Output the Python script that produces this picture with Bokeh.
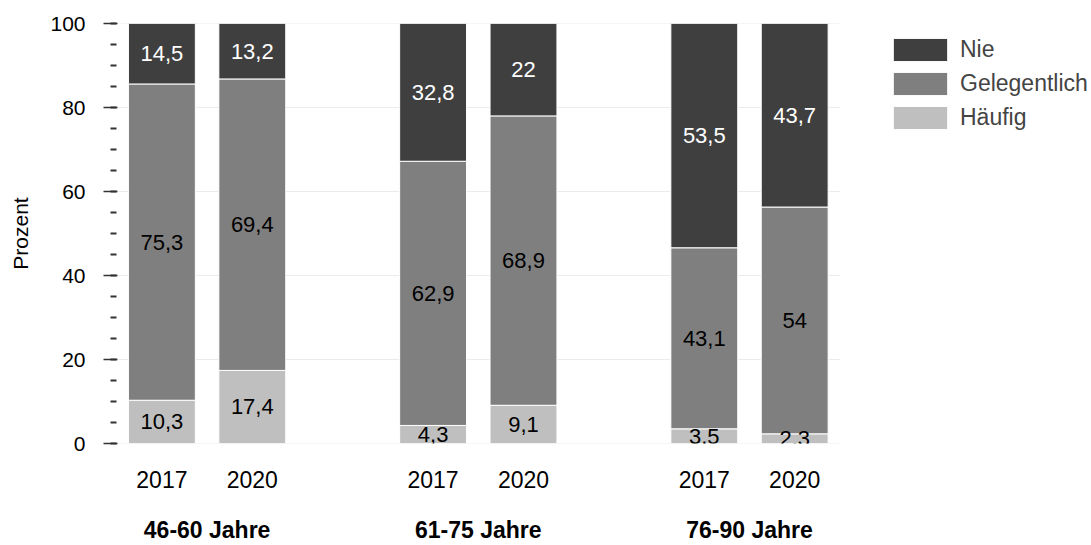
import numpy as np
from bokeh.plotting import figure
from bokeh.models import (ColumnDataSource, Legend, LegendItem, LinearAxis, FixedTicker,
                          SingleIntervalTicker, Range1d)
from bokeh.core.properties import value
from bokeh.embed import file_html
from bokeh.resources import INLINE

# ---- data ----
groups = ["46-60 Jahre", "61-75 Jahre", "76-90 Jahre"]
years = ["2017", "2020"]
series = ["Häufig", "Gelegentlich", "Nie"]
haeufig = [10.3, 17.4, 4.3, 9.1, 3.5, 2.3]
gelegentlich = [75.3, 69.4, 62.9, 68.9, 43.1, 54.0]
nie = [14.5, 13.2, 32.8, 22.0, 53.5, 43.7]
colors = ["#bfbfbf", "#7f7f7f", "#3f3f3f"]
label_colors = ["black", "black", "white"]
y_label = "Prozent"

FONT = "Liberation Sans"

# ---- layout (slot positions derived from the categories) ----
group_gap = 1
slot = len(years) + group_gap
pos = [gi * slot + yi for gi in range(len(groups)) for yi in range(len(years))]
year_labels = [y for _ in groups for y in years]
group_pos = [gi * slot + (len(years) - 1) / 2 for gi in range(len(groups))]
x_start = -0.48
grid_end = pos[-1] + 0.5
W, H = 1091, 545
frame_left, frame_top, frame_bottom = 118, 23, 102
px_per_unit = 90.4
x_end = x_start + (W - frame_left) / px_per_unit


def fmt(v):
    return f"{v:g}".replace(".", ",")


source = ColumnDataSource({"x": pos, "Häufig": haeufig,
                           "Gelegentlich": gelegentlich, "Nie": nie})

p = figure(width=W, height=H, x_range=Range1d(x_start, x_end), y_range=Range1d(0, 100),
           output_backend="svg", toolbar_location=None, x_axis_location=None,
           min_border_left=frame_left, min_border_right=0, min_border_top=frame_top,
           min_border_bottom=frame_bottom)
p.outline_line_color = None
p.background_fill_color = "white"
p.xgrid.visible = False
p.ygrid.visible = False

y_ticks = list(range(0, 101, 20))
p.segment(x0=x_start, x1=grid_end, y0=y_ticks, y1=y_ticks, line_color="#ebebeb",
          line_width=1, level="underlay")

renderers = p.vbar_stack(series, x="x", width=0.74, color=colors,
                         line_color="white", line_width=1, source=source)

# value labels centred in each segment
vals = np.array([haeufig, gelegentlich, nie])
tops = np.cumsum(vals, axis=0)
centers = tops - vals / 2
for k in range(len(series)):
    src = ColumnDataSource(dict(x=pos, y=centers[k], t=[fmt(v) for v in vals[k]]))
    p.text(x="x", y="y", text="t", source=src, text_align="center", text_baseline="middle",
           text_font=value(FONT), text_font_size="22px", text_color=label_colors[k])

# y axis
p.yaxis.ticker = SingleIntervalTicker(interval=20, num_minor_ticks=4)
p.yaxis.axis_line_color = None
p.yaxis.major_tick_line_color = "#333333"
p.yaxis.major_tick_line_width = 1.3
p.yaxis.major_tick_out = 15
p.yaxis.major_tick_in = -1
p.yaxis.minor_tick_line_color = "#333333"
p.yaxis.minor_tick_line_width = 2
p.yaxis.minor_tick_out = 8
p.yaxis.minor_tick_in = -2
p.yaxis.major_label_standoff = 18
p.yaxis.major_label_text_font = FONT
p.yaxis.major_label_text_font_size = "21px"
p.yaxis.major_label_text_color = "black"
p.yaxis.axis_label = y_label
p.yaxis.axis_label_text_font = FONT
p.yaxis.axis_label_text_font_size = "21px"
p.yaxis.axis_label_text_font_style = "normal"
p.yaxis.axis_label_text_color = "black"
p.yaxis.axis_label_standoff = 15


def cat_axis(ticks, labels, standoff, style):
    ax = LinearAxis(ticker=FixedTicker(ticks=ticks),
                    major_label_overrides={t: l for t, l in zip(ticks, labels)})
    ax.axis_line_color = None
    ax.major_tick_line_color = None
    ax.minor_tick_line_color = None
    ax.major_tick_out = 0
    ax.major_tick_in = 0
    ax.minor_tick_out = 0
    ax.major_label_standoff = standoff
    ax.major_label_text_font = FONT
    ax.major_label_text_font_size = "23px"
    ax.major_label_text_font_style = style
    ax.major_label_text_color = "black"
    return ax


p.add_layout(cat_axis(pos, year_labels, 27, "normal"), "below")
p.add_layout(cat_axis(group_pos, groups, 26, "bold"), "below")

# legend (vbar legend swatches are inset 10% on each side, hence the larger box)
items = [LegendItem(label=s, renderers=[r]) for s, r in zip(series, renderers)][::-1]
legend = Legend(items=items, location=(768, 311), glyph_width=68, glyph_height=29,
                label_standoff=6, spacing=5, padding=0, margin=0,
                border_line_color=None, background_fill_alpha=0,
                label_text_font=FONT, label_text_font_size="23px", label_height=25)
p.add_layout(legend)

open("out.html", "w").write(file_html(p, INLINE))
